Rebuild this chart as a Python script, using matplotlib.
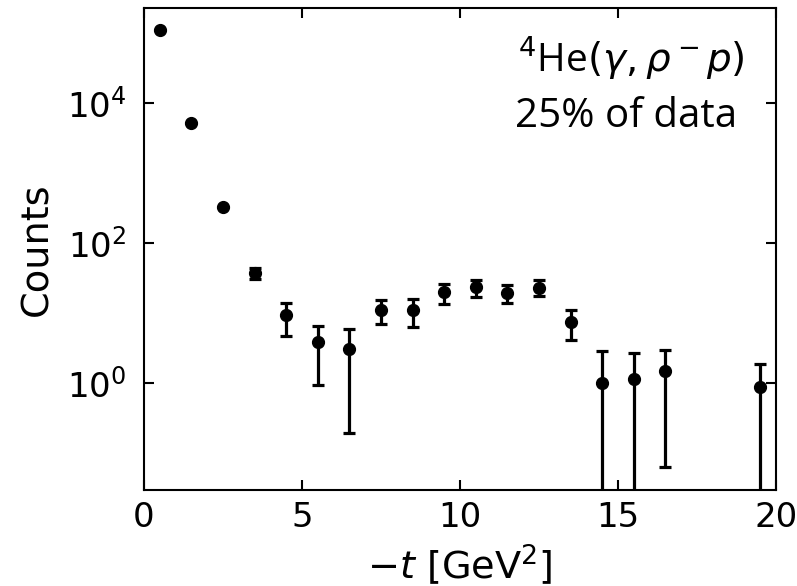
import matplotlib
matplotlib.use("Agg")
import matplotlib.pyplot as plt
import numpy as np

# -t bin centres and weighted counts
t = [0.5, 1.5, 2.5, 3.5, 4.5, 5.5, 6.5, 7.5, 8.5, 9.5, 10.5, 11.5, 12.5, 13.5, 14.5, 15.5, 16.5, 19.5]
counts = [1.1e5, 5.2e3, 330, 37.7, 9.4, 3.9, 3.1, 11.0, 11.3, 20.2, 23.8, 19.5, 23.3, 7.5, 1.0, 1.15, 1.5, 0.89]
err_hi = [1.1e5, 5.2e3, 330, 44.2, 14.0, 6.7, 6.0, 15.3, 16.2, 26.0, 30.2, 25.5, 29.6, 11.3, 2.87, 2.75, 2.96, 1.87]
err_lo = [1.1e5, 5.2e3, 330, 31.5, 4.7, 0.96, 0.195, 7.0, 6.4, 13.7, 17.1, 14.0, 17.5, 4.1, 0.0, 0.0, 0.064, 0.0]

counts = np.array(counts)
yerr = np.array([counts - np.array(err_lo), np.array(err_hi) - counts])

plt.rcParams['font.family'] = ['DejaVu Sans']
plt.rcParams['mathtext.fontset'] = 'dejavusans'

fig = plt.figure(figsize=(7.97, 5.86), dpi=100)
ax = fig.add_axes([0.1807, 0.1638, 0.7930, 0.8225])

ax.errorbar(t, counts, yerr=yerr, fmt='o', color='black', ms=8.5,
            elinewidth=2.3, capsize=4, capthick=2.3)

ax.set_yscale('log')
ax.set_xlim(0, 20)
ax.set_ylim(0.03, 2.3e5)
ax.set_yticks([1, 1e2, 1e4])
ax.minorticks_off()
ax.set_xticks([0, 5, 10, 15, 20])

ax.tick_params(direction='in', top=True, right=True, length=7, width=1.5,
               labelsize=24.5)
ax.tick_params(axis='x', pad=8)
ax.tick_params(axis='y', pad=13)
for s in ax.spines.values():
    s.set_linewidth(1.5)

ax.set_xlabel(r'$-t$ [GeV$^2$]', fontsize=27.5, labelpad=6)
ax.set_ylabel('Counts', fontsize=27.5, labelpad=8)

ax.text(0.951, 0.898, r'$^4$He$(\gamma, \rho^- p)$', transform=ax.transAxes,
        ha='right', va='center', fontsize=28, family='Open Sans')
ax.text(0.938, 0.774, '25% of data', transform=ax.transAxes,
        ha='right', va='center', fontsize=29, family='Open Sans')

fig.savefig('out.png', dpi=100)
